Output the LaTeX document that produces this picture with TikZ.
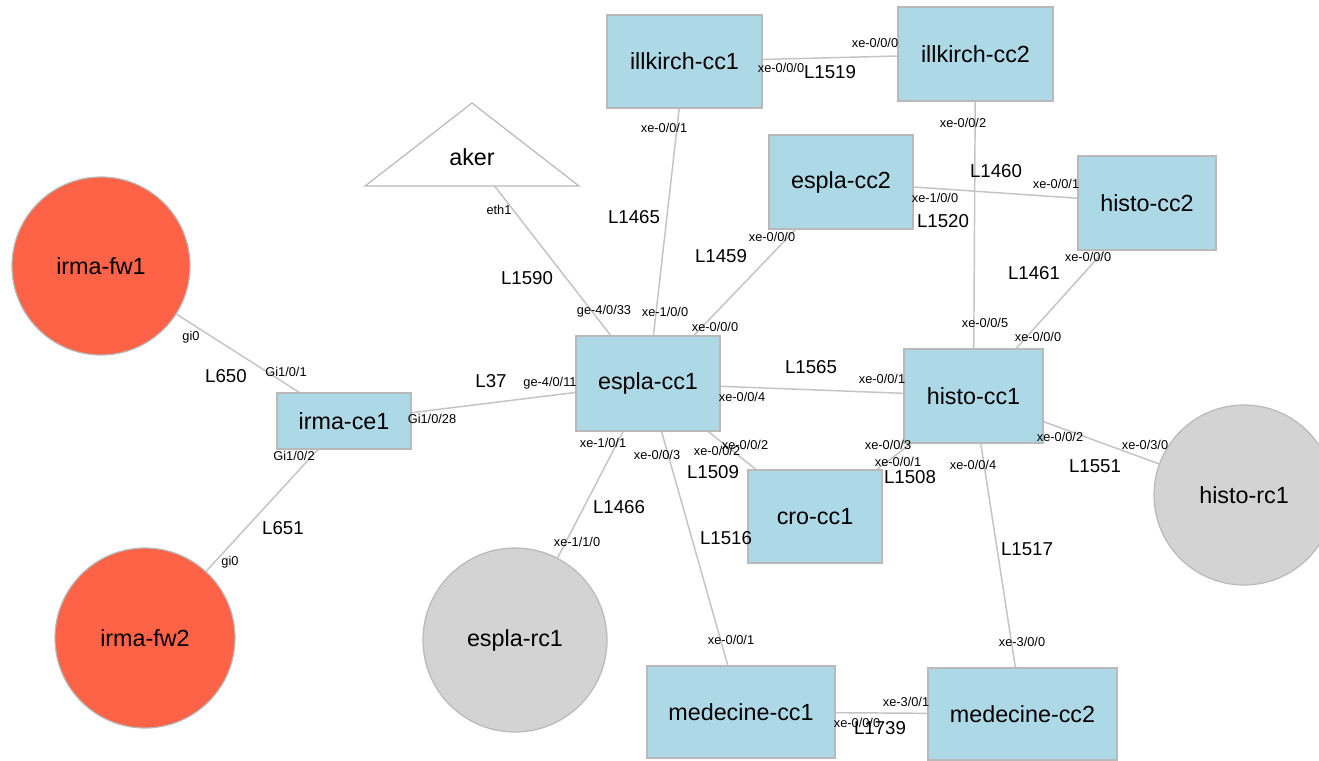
\documentclass[tikz,border=0pt]{standalone}
\usepackage{fontspec}
\setmainfont{Liberation Sans}
\usetikzlibrary{backgrounds}

\definecolor{boxblue}{RGB}{173,216,230}
\definecolor{fwred}{RGB}{255,99,71}
\definecolor{rcgray}{RGB}{211,211,211}
\definecolor{linegray}{RGB}{196,196,196}
\definecolor{bordergray}{RGB}{185,185,185}

\newcommand\devfont{\fontsize{17.5}{20}\selectfont}
\newcommand\linkfont{\fontsize{14}{16}\selectfont}
\newcommand\portfont{\fontsize{9.6}{11}\selectfont}

\tikzset{
  switchbox/.style 2 args={rectangle, draw=bordergray, fill=boxblue, line width=0.9pt,
    minimum width=#1*0.75pt, minimum height=#2*0.75pt, inner sep=0pt, font=\devfont},
  fwnode/.style={circle, draw=bordergray, fill=fwred, line width=0.9pt,
    minimum size=#1*0.75pt, inner sep=0pt, font=\devfont},
  rcnode/.style={circle, draw=bordergray, fill=rcgray, line width=0.9pt,
    minimum size=#1*0.75pt, inner sep=0pt, font=\devfont},
  link/.style={draw=linegray, line width=1.1pt},
  linklabel/.style={inner sep=0pt, font=\linkfont},
  portlabel/.style={inner sep=0pt, font=\portfont},
}

\begin{document}
\begin{tikzpicture}[x=0.75pt, y=-0.75pt]
\clip (0,0) rectangle (1319,760);

% devices
\node[switchbox={155}{93}] (illkirch-cc1) at (684.5,61.5) {illkirch-cc1};
\node[switchbox={155}{94}] (illkirch-cc2) at (975.5,54) {illkirch-cc2};
\node[switchbox={144}{94}] (espla-cc2) at (841,182) {espla-cc2};
\node[switchbox={138}{94}] (histo-cc2) at (1147,203) {histo-cc2};
\node[switchbox={144}{95}] (espla-cc1) at (648,383.5) {espla-cc1};
\node[switchbox={139}{94}] (histo-cc1) at (973.5,396) {histo-cc1};
\node[switchbox={134}{93}] (cro-cc1) at (815,516.5) {cro-cc1};
\node[switchbox={134}{56}] (irma-ce1) at (344,421) {irma-ce1};
\node[switchbox={188}{92}] (medecine-cc1) at (741,712) {medecine-cc1};
\node[switchbox={189}{92}] (medecine-cc2) at (1022.5,714) {medecine-cc2};
\node[fwnode=178] (irma-fw1) at (101,266) {irma-fw1};
\node[fwnode=180] (irma-fw2) at (145,638) {irma-fw2};
\node[rcnode=184] (espla-rc1) at (515,640) {espla-rc1};
\node[rcnode=180] (histo-rc1) at (1244,495) {histo-rc1};

% the aker firewall is a triangle
\draw[bordergray, line width=0.9pt, fill=white] (472,103) -- (579,186) -- (365,186) -- cycle;
\node[inner sep=0pt, font=\devfont] (aker) at (472,157) {aker};

% links, drawn below the devices on a white ground
\begin{pgfonlayer}{background}
\fill[white] (0,0) rectangle (1319,760);
\draw[link] (illkirch-cc1) -- (illkirch-cc2);
\draw[link] (illkirch-cc1) -- (espla-cc1);
\draw[link] (illkirch-cc2) -- (histo-cc1);
\draw[link] (aker.center) -- (espla-cc1);
\draw[link] (espla-cc2) -- (espla-cc1);
\draw[link] (espla-cc2) -- (histo-cc2);
\draw[link] (histo-cc2) -- (histo-cc1);
\draw[link] (irma-fw1) -- (irma-ce1);
\draw[link] (irma-ce1) -- (irma-fw2);
\draw[link] (irma-ce1) -- (espla-cc1);
\draw[link] (espla-cc1) -- (histo-cc1);
\draw[link] (espla-cc1) -- (cro-cc1);
\draw[link] (espla-cc1) -- (espla-rc1);
\draw[link] (espla-cc1) -- (medecine-cc1);
\draw[link] (histo-cc1) -- (cro-cc1);
\draw[link] (histo-cc1) -- (histo-rc1);
\draw[link] (histo-cc1) -- (medecine-cc2);
\draw[link] (medecine-cc1) -- (medecine-cc2);
\end{pgfonlayer}

% link names
\node[linklabel] (n1519) at (830,72) {L1519};
\node[linklabel] (n1465) at (634,217) {L1465};
\node[linklabel] (n1460) at (996,171) {L1460};
\node[linklabel] (n1520) at (943,221) {L1520};
\node[linklabel] (n1459) at (721,256) {L1459};
\node[linklabel] (n1461) at (1034,273) {L1461};
\node[linklabel] (n1590) at (527,278) {L1590};
\node[linklabel] (n650) at (226,376) {L650};
\node[linklabel] (n37) at (491,381) {L37};
\node[linklabel] (n651) at (283,528) {L651};
\node[linklabel] (n1565) at (811,367) {L1565};
\node[linklabel] (n1509) at (713,472) {L1509};
\node[linklabel] (n1508) at (910,477) {L1508};
\node[linklabel] (n1466) at (619,507) {L1466};
\node[linklabel] (n1516) at (726,538) {L1516};
\node[linklabel] (n1551) at (1095,466) {L1551};
\node[linklabel] (n1517) at (1027,549) {L1517};
\node[linklabel] (n1739) at (880,728) {L1739};

% port names
\node[portlabel] (p01) at (781,68) {xe-0/0/0};
\node[portlabel] (p02) at (875,43) {xe-0/0/0};
\node[portlabel] (p03) at (664,128) {xe-0/0/1};
\node[portlabel] (p04) at (963,123) {xe-0/0/2};
\node[portlabel] (p05) at (935,198) {xe-1/0/0};
\node[portlabel] (p06) at (1056,184) {xe-0/0/1};
\node[portlabel] (p07) at (772,237) {xe-0/0/0};
\node[portlabel] (p08) at (715,327) {xe-0/0/0};
\node[portlabel] (p09) at (665,312) {xe-1/0/0};
\node[portlabel] (p10) at (604,311) {ge-4/0/33};
\node[portlabel] (p11) at (499,210) {eth1};
\node[portlabel] (p12) at (985,323) {xe-0/0/5};
\node[portlabel] (p13) at (1088,257) {xe-0/0/0};
\node[portlabel] (p14) at (1038,337) {xe-0/0/0};
\node[portlabel] (p15) at (191,337) {gi0};
\node[portlabel] (p16) at (286,372) {Gi1/0/1};
\node[portlabel] (p17) at (432,419) {Gi1/0/28};
\node[portlabel] (p18) at (294,456) {Gi1/0/2};
\node[portlabel] (p19) at (230,562) {gi0};
\node[portlabel] (p20) at (550,383) {ge-4/0/11};
\node[portlabel] (p21) at (742,397) {xe-0/0/4};
\node[portlabel] (p22) at (882,379) {xe-0/0/1};
\node[portlabel] (p23) at (603,443) {xe-1/0/1};
\node[portlabel] (p24) at (657,455) {xe-0/0/3};
\node[portlabel] (p25) at (717,451) {xe-0/0/2};
\node[portlabel] (p26) at (745,445) {xe-0/0/2};
\node[portlabel] (p27) at (888,445) {xe-0/0/3};
\node[portlabel] (p28) at (898,462) {xe-0/0/1};
\node[portlabel] (p29) at (973,465) {xe-0/0/4};
\node[portlabel] (p30) at (1060,437) {xe-0/0/2};
\node[portlabel] (p31) at (1145,445) {xe-0/3/0};
\node[portlabel] (p32) at (577,542) {xe-1/1/0};
\node[portlabel] (p33) at (731,640) {xe-0/0/1};
\node[portlabel] (p34) at (1022,642) {xe-3/0/0};
\node[portlabel] (p35) at (906,702) {xe-3/0/1};
\node[portlabel] (p36) at (857,723) {xe-0/0/0};
\end{tikzpicture}
\end{document}
